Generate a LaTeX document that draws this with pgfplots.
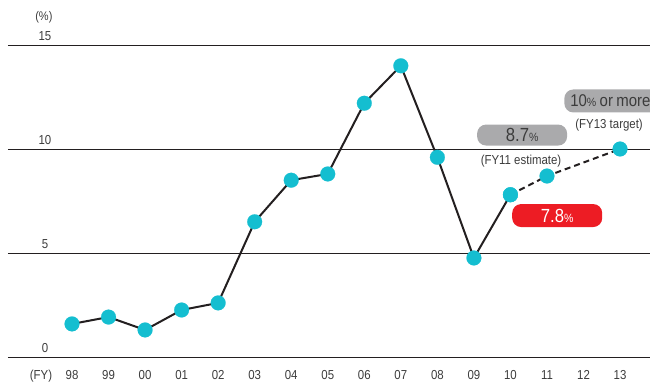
\documentclass[border=0pt]{standalone}
\usepackage{pgfplots}
\pgfplotsset{compat=1.18}
\usepackage{fontspec}
\setmainfont{Liberation Sans}[FakeStretch=0.88]
\definecolor{dotcyan}{RGB}{20,190,208}
\definecolor{linedark}{RGB}{35,31,32}
\definecolor{boxgray}{RGB}{170,170,172}
\definecolor{boxred}{RGB}{237,28,36}
\definecolor{txtgray}{RGB}{60,60,60}
\newcommand{\bignum}[1]{{\fontsize{19}{19}\selectfont #1}}
\newcommand{\pct}{{\fontsize{12}{12}\selectfont\%}}
\begin{document}
\begin{tikzpicture}[x=1pt,y=1pt]
\useasboundingbox (0,0) rectangle (650,382);
\begin{axis}[
  at={(8pt,25pt)}, anchor=south west,
  scale only axis, width=642pt, height=312pt,
  xmin=-1.752, xmax=15.82, ymin=0, ymax=15,
  clip=false,
  axis line style={draw=none},
  tick style={draw=none},
  ytick={0,5,10,15},
  ymajorgrids, grid style={linedark, line width=0.8pt},
  xtick={-0.85,0,1,2,3,4,5,6,7,8,9,10,11,12,13,14,15},
  xticklabels={(FY),98,99,00,01,02,03,04,05,06,07,08,09,10,11,12,13},
  xticklabel style={font=\fontsize{13}{14}\selectfont, text=txtgray, anchor=base, yshift=-22.5pt},
  yticklabel style={font=\fontsize{13}{14}\selectfont, text=txtgray, anchor=base, xshift=37pt, yshift=4.3pt},
  /pgf/number format/assume math mode=true,
  every axis plot/.append style={mark options={solid, fill=dotcyan, draw=dotcyan, line width=0.2pt}},
]
% actual results FY98-FY10
\addplot[linedark, line width=2pt, mark=*, mark size=7.4pt] coordinates {
  (0,1.59) (1,1.92) (2,1.30) (3,2.26) (4,2.60) (5,6.50) (6,8.50)
  (7,8.80) (8,12.20) (9,14.00) (10,9.60) (11,4.76) (12,7.80)
};
% estimate and target
\addplot[linedark, line width=2pt, dash pattern=on 6pt off 4pt] coordinates {
  (12,7.80) (13,8.70) (15,10.00)
};
\addplot[only marks, mark=*, mark size=7.4pt] coordinates {
  (12,7.80) (13,8.70) (15,10.00)
};
\node[txtgray, font=\fontsize{12.5}{13}\selectfont] at (axis cs:-0.77,16.35) {(\%)};
% callouts
\node[fill=boxgray, rounded corners=9pt, minimum width=90pt, minimum height=21pt,
  inner sep=0pt, text=txtgray] at (axis cs:12.32,10.67)
  {\bignum{8.7}\pct};
\node[txtgray, font=\fontsize{13}{14}\selectfont] at (axis cs:12.29,9.42) {(FY11 estimate)};
\node[fill=boxgray, rounded corners=9pt, minimum width=100pt, minimum height=23pt,
  inner sep=0pt, text=txtgray, anchor=west, align=left, text width=100pt] at (axis cs:13.47,12.31)
  {\hspace*{6pt}{\fontsize{17}{17}\selectfont 10}\pct{\fontsize{17}{17}\selectfont{} or more}};
\node[txtgray, font=\fontsize{13}{14}\selectfont] at (axis cs:14.70,11.15) {(FY13 target)};
\node[fill=boxred, rounded corners=9pt, minimum width=90pt, minimum height=23pt,
  inner sep=0pt, text=white] at (axis cs:13.28,6.80)
  {\bignum{7.8}\pct};
\end{axis}
\end{tikzpicture}
\end{document}
